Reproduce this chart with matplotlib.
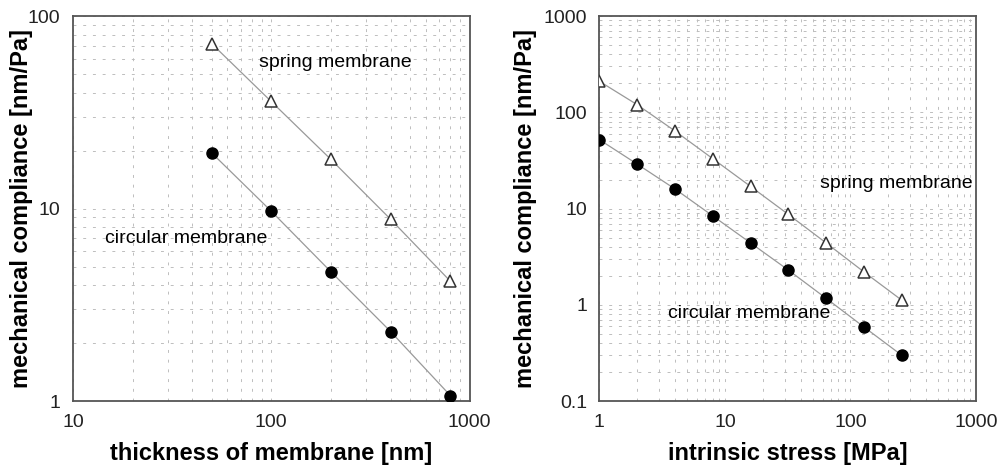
import matplotlib.pyplot as plt

plt.rcParams['font.family'] = ['Liberation Sans', 'DejaVu Sans']

# left panel: compliance vs thickness
thickness = [50, 100, 200, 400, 800]
spring_thick = [72, 36, 18, 8.8, 4.2]
circular_thick = [19.5, 9.7, 4.7, 2.3, 1.07]

# right panel: compliance vs intrinsic stress
stress = [1, 2, 4, 8, 16, 32, 64, 128, 256]
spring_stress = [210, 120, 64, 33, 17, 8.7, 4.4, 2.2, 1.12]
circular_stress = [52, 29, 16, 8.4, 4.4, 2.3, 1.17, 0.59, 0.3]

fig = plt.figure(figsize=(9.99, 4.72), dpi=100)
ax1 = fig.add_axes([0.073, 0.150, 0.397, 0.816])
ax2 = fig.add_axes([0.600, 0.150, 0.377, 0.816])


def style(ax, xlim, ylim, xlabel, ylab_x):
	ax.set_xscale('log')
	ax.set_yscale('log')
	ax.set_xlim(*xlim)
	ax.set_ylim(*ylim)
	ax.grid(which='both', ls=(0, (3, 7)), color='#bdbdbd', lw=0.7)
	ax.set_axisbelow(True)
	ax.tick_params(which='both', length=0, labelsize=14, colors='#222222', pad=9)
	for s in ax.spines.values():
		s.set_color('#555555')
		s.set_linewidth(1.3)
	ax.set_xlabel(xlabel, fontsize=17, fontweight='bold', labelpad=8)
	ax.set_ylabel('mechanical compliance [nm/Pa]', fontsize=17, fontweight='bold')
	ax.yaxis.set_label_coords(ylab_x, 0.5)
	ax.xaxis.set_major_formatter(plt.FuncFormatter(lambda v, p: '%g' % v))
	ax.yaxis.set_major_formatter(plt.FuncFormatter(lambda v, p: '%g' % v))


def series(ax, x, spring, circ):
	ax.plot(x, spring, color='#999999', lw=0.9, zorder=2)
	ax.plot(x, circ, color='#999999', lw=0.9, zorder=2)
	ax.plot(x, spring, ls='none', marker='^', ms=8, mfc='white', mec='#333333', mew=1.1, zorder=3)
	ax.plot(x, circ, ls='none', marker='o', ms=8, color='black', zorder=3)


style(ax1, (10, 1000), (1, 100), 'thickness of membrane [nm]', -0.101)
series(ax1, thickness, spring_thick, circular_thick)
ax1.text(87, 57.7, 'spring membrane', fontsize=14, va='center', ha='left')
ax1.text(14.5, 7.0, 'circular membrane', fontsize=14, va='center', ha='left')

style(ax2, (1, 1000), (0.1, 1000), 'intrinsic stress [MPa]', -0.167)
series(ax2, stress, spring_stress, circular_stress)
ax2.text(57, 18.4, 'spring membrane', fontsize=14, va='center', ha='left')
ax2.text(3.55, 0.82, 'circular membrane', fontsize=14, va='center', ha='left')

fig.savefig('out.png', dpi=100)
